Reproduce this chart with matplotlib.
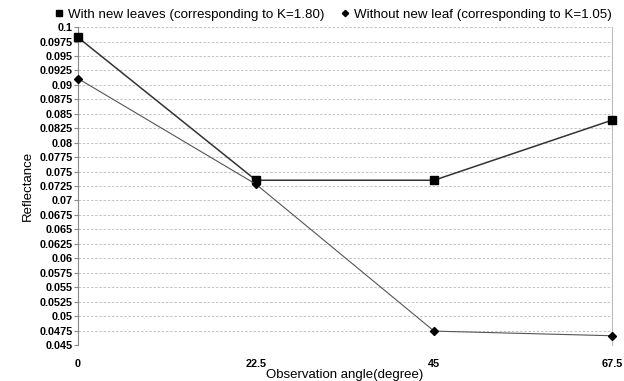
import matplotlib.pyplot as plt
from matplotlib.ticker import MultipleLocator

plt.rcParams['font.family'] = ['Liberation Sans', 'DejaVu Sans']

# Daten
angulos = [0, 22.5, 45, 67.5]
com_folhas = [0.0982, 0.0735, 0.0735, 0.0839]
sem_folhas = [0.0911, 0.0728, 0.0474, 0.0466]

fig = plt.figure(figsize=(6.24, 3.81), dpi=100)
ax = fig.add_axes([0.125, 0.0945, 0.856, 0.8345])

ax.plot(angulos, com_folhas, color="#333333", lw=1.1, marker="s", ms=5.5,
        mfc="black", mec="black", clip_on=False, zorder=3,
        label="With new leaves (corresponding to K=1.80)")
ax.plot(angulos, sem_folhas, color="#555555", lw=0.8, marker="D", ms=4,
        mfc="black", mec="black", clip_on=False, zorder=3,
        label="Without new leaf (corresponding to K=1.05)")

ax.set_xlim(0, 67.5)
ax.set_ylim(0.045, 0.1)
ax.set_xticks(angulos)
ax.set_xticklabels(["0", "22.5", "45", "67.5"])
ax.yaxis.set_major_locator(MultipleLocator(0.0025))

def fmt(v, pos):
    return ("%.4f" % v).rstrip("0").rstrip(".")
ax.yaxis.set_major_formatter(plt.FuncFormatter(fmt))

ax.grid(axis="y", color="#bbbbbb", ls=(0, (3, 2)), lw=0.6)
for lado in ["top", "bottom"]:
    ax.spines[lado].set_visible(False)
ax.spines["left"].set_color("#888888")
ax.spines["right"].set_color("#bbbbbb")
ax.tick_params(axis="y", labelsize=7.8, length=3, color="#888888", pad=1)
ax.tick_params(axis="x", labelsize=7.8, length=0, pad=10)
for t in ax.get_xticklabels() + ax.get_yticklabels():
    t.set_fontweight("bold")

ax.set_xlabel("Observation angle(degree)", fontsize=9.5, labelpad=0)
ax.set_ylabel("Reflectance", fontsize=9.5, labelpad=4)

leg = ax.legend(loc="lower center", bbox_to_anchor=(0.478, 1.0), ncol=2, frameon=False,
                fontsize=9.6, handlelength=0.6, handletextpad=0.4, columnspacing=1.2,
                borderaxespad=0.05, markerscale=0.8)
for h in leg.legend_handles:
    h.set_linestyle("none")

fig.savefig("out.png", dpi=100)
